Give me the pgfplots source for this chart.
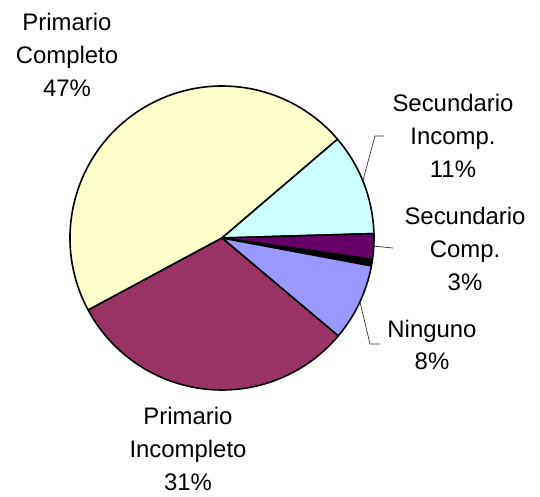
\documentclass[border=0pt]{standalone}
\usepackage{pgfplots}
\usepackage{pgfplotstable}
\pgfplotsset{compat=1.18}
\usepackage{fontspec}
\setmainfont{Liberation Sans}
\definecolor{slice0}{HTML}{FFFFCC}
\definecolor{slice1}{HTML}{CCFFFF}
\definecolor{slice2}{HTML}{660066}
\definecolor{slice3}{HTML}{000000}
\definecolor{slice4}{HTML}{9999FF}
\definecolor{slice5}{HTML}{993366}
% share of each slice (percent), clockwise from Primario Completo
\pgfplotstableread{
value
46.6
10.8
2.7
0.7
8.2
31.0
}\piedata
\begin{document}
\begin{tikzpicture}
\begin{axis}[
  hide axis, scale only axis,
  width=540bp, height=496bp,
  xmin=0, xmax=540, ymin=0, ymax=496,
  y dir=reverse, clip=false,
]
\path (axis cs:0,0) rectangle (axis cs:540,496);
\def\angacc{208.3}
\pgfplotsforeachungrouped \i in {0,...,5}{%
  \pgfplotstablegetelem{\i}{value}\of\piedata
  \pgfmathsetmacro\sweep{3.6*\pgfplotsretval}%
  \pgfmathsetmacro\angend{\angacc-\sweep}%
  \edef\temp{\noexpand\filldraw[fill=slice\i, draw=black, line width=1.6bp, line join=round]
    (axis cs:222,238) -- ++(\angacc:152bp) arc[start angle=\angacc, end angle=\angend, radius=152bp] -- cycle;}%
  \temp
  \global\let\angacc\angend
}
\draw[line width=0.7bp, black!80] (axis cs:363,180) -- (axis cs:375,136) -- (axis cs:384,136);
\draw[line width=0.7bp, black!80] (axis cs:373,246) -- (axis cs:393,248);
\draw[line width=0.7bp, black!80] (axis cs:360,302) -- (axis cs:370,344) -- (axis cs:380,344);
\tikzset{lab/.style={align=center, inner sep=0pt, font=\fontsize{24}{33}\selectfont}}
\node[lab] at (axis cs:67,55) {Primario\\Completo\\47\%};
\node[lab] at (axis cs:453,136) {Secundario\\Incomp.\\11\%};
\node[lab] at (axis cs:465,249) {Secundario\\Comp.\\3\%};
\node[lab] at (axis cs:432,345) {Ninguno\\8\%};
\node[lab] at (axis cs:188,449) {Primario\\Incompleto\\31\%};
\end{axis}
\end{tikzpicture}
\end{document}
